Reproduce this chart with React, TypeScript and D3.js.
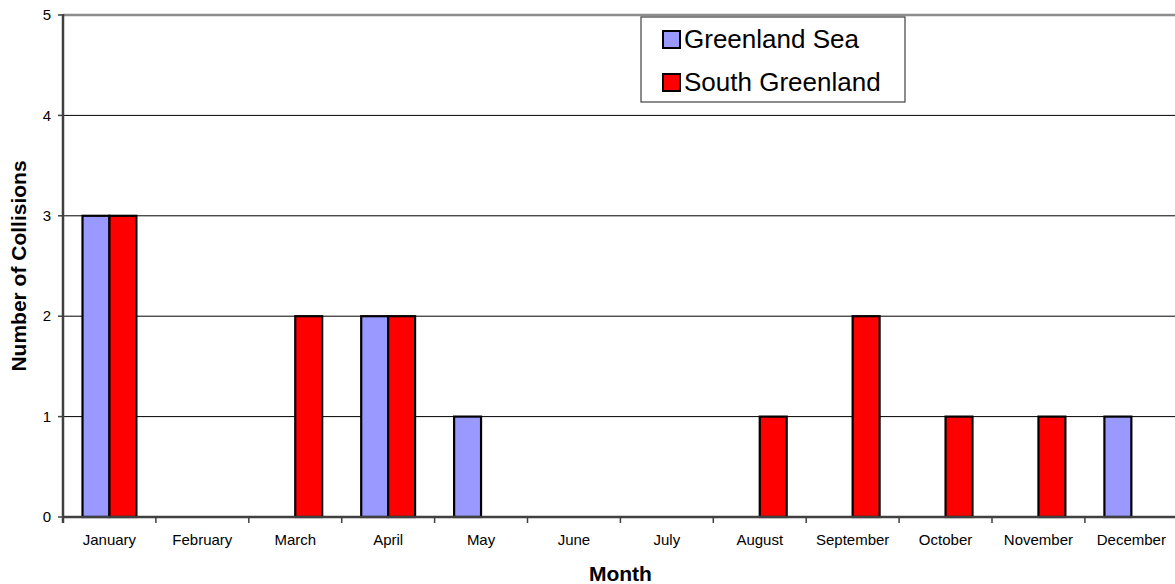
import React from "react";
import * as d3 from "d3";

const months = ["January","February","March","April","May","June","July","August","September","October","November","December"];
const greenlandSea = [3,0,0,2,1,0,0,0,0,0,0,1];
const southGreenland = [3,0,2,2,0,0,0,1,2,1,1,0];
const seriesNames = ["Greenland Sea","South Greenland"];
const seriesColors = ["#9999FF","#FF0000"];
const yTicks = [0,1,2,3,4,5];

export default function App() {
  const W = 1175, H = 584;
  const left = 63, top = 15, bottom = 517;
  const band = 92.9;
  const x = d3.scaleBand<string>().domain(months).range([left, left + band * 12]).paddingInner(0).paddingOuter(0);
  const y = d3.scaleLinear().domain([0, 5]).range([bottom, top]);
  const bw = x.bandwidth();
  const barW = bw * 0.29;
  const groupOff = (bw - 2 * barW) / 2;
  const series = [greenlandSea, southGreenland];
  const font = "Liberation Sans, Arial, sans-serif";
  const right = left + band * 12;
  return (
    <svg width={W} height={H} style={{ position: "absolute", left: 0, top: 0, background: "#fff" }} fontFamily={font}>
      {yTicks.slice(1, 5).map(t => (
        <line key={"g"+t} x1={left} x2={right} y1={y(t)} y2={y(t)} stroke="#000" strokeWidth={1} />
      ))}
      <line x1={left} x2={right} y1={y(5)} y2={y(5)} stroke="#8c8c8c" strokeWidth={2.5} />
      {yTicks.map(t => (
        <g key={"yt"+t}>
          <line x1={left - 5} x2={left} y1={y(t)} y2={y(t)} stroke="#404040" strokeWidth={1.5} />
          <text x={51} y={y(t)} dy="0.35em" textAnchor="end" fontSize={15}>{t}</text>
        </g>
      ))}
      {series.map((vals, si) => vals.map((v, i) => v > 0 ? (
        <rect key={si+"-"+i} x={(x(months[i]) as number) + groupOff + si * barW} y={y(v)} width={barW} height={y(0) - y(v)}
          fill={seriesColors[si]} stroke="#000" strokeWidth={2.2} />
      ) : null))}
      <line x1={left} x2={left} y1={top - 1} y2={bottom + 6} stroke="#404040" strokeWidth={2.5} />
      <line x1={left} x2={right} y1={bottom} y2={bottom} stroke="#404040" strokeWidth={2.7} />
      {months.map((m, i) => (
        <g key={m}>
          <line x1={left + i * bw} x2={left + i * bw} y1={bottom} y2={bottom + 6} stroke="#404040" strokeWidth={1.5} />
          <text x={(x(m) as number) + bw / 2} y={545} textAnchor="middle" fontSize={15}>{m}</text>
        </g>
      ))}
      <text x={(left + right) / 2} y={581} textAnchor="middle" fontSize={21} fontWeight="bold">Month</text>
      <text transform={`translate(26, ${(top + bottom) / 2}) rotate(-90)`} textAnchor="middle" fontSize={21} fontWeight="bold">Number of Collisions</text>
      <rect x={641} y={17} width={264} height={85} fill="#fff" stroke="#404040" strokeWidth={1.2} />
      {seriesNames.map((n, i) => (
        <g key={n}>
          <rect x={663} y={31 + i * 43} width={17} height={17} fill={seriesColors[i]} stroke="#000" strokeWidth={2} />
          <text x={684} y={48 + i * 43} fontSize={26}>{n}</text>
        </g>
      ))}
    </svg>
  );
}
